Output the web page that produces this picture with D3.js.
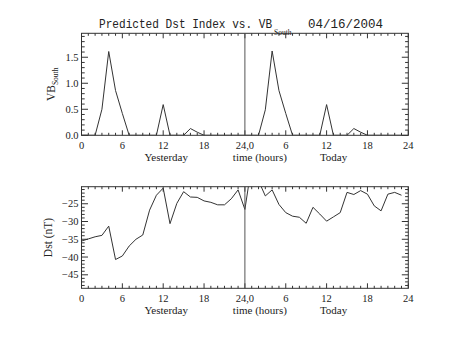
<!DOCTYPE html>
<html><head><meta charset="utf-8">
<script src="https://cdn.jsdelivr.net/npm/d3@7"></script>
<style>
body{margin:0;background:#fff;}
text{font-family:"Liberation Serif","DejaVu Serif",serif;fill:#222;}
</style></head>
<body><svg id="c" width="453" height="340"></svg>
<script>
// ---- data ----
const hours = d3.range(0, 48);
const vbYesterday = [0,0,0,0.5,1.61,0.86,0.42,0,0,0,0,0,0.59,0,0,0,0.13,0.06,0,0,0,0,0,0];
const vbToday     = [0,0,0,0.49,1.62,0.86,0.42,0,0,0,0,0,0.59,0,0,0,0.13,0.06,0,0,0,0,0,0];
const dstYesterday = [-35.5,-34.9,-34.3,-33.9,-31.3,-40.7,-39.7,-36.9,-35.0,-33.8,-26.8,-22.6,-20.6,-30.6,-24.9,-21.6,-23.1,-23.2,-24.2,-24.6,-25.3,-25.3,-23.6,-21.1];
const dstToday     = [-26.6,-14,-18.5,-22.8,-21.1,-25.2,-27.5,-28.5,-28.8,-30.5,-26.0,-27.9,-29.9,-28.7,-27.5,-21.8,-22.4,-21.3,-22.3,-25.6,-27.0,-22.3,-21.8,-22.6];
const xTickValues = [0,6,12,18,24,30,36,42,48];
const xTickLabels = ["0","6","12","18","24,0","6","12","18","24"];
const vbTicks = [0,0.5,1.0,1.5];
const dstTicks = [-45,-40,-35,-30,-25];
const vbDomain = [0, 1.96];
const dstDomain = [-48.8, -20.2];
const titleMain = "Predicted Dst Index vs. VB";
const titleSub = "South";
const titleDate = "04/16/2004";
const xTitleParts = ["Yesterday", "time (hours)", "Today"];

const svg = d3.select("#c");
const X0 = 81.5, X1 = 408.3;
const x = d3.scaleLinear().domain([0,48]).range([X0, X1]);
const ink = "#333";

function panel(top, bottom, domain, yTicks, yMinorStep, yFmt, values, clipId, yLabel) {
  const y = d3.scaleLinear().domain(domain).range([bottom, top]);
  const g = svg.append("g");
  g.append("clipPath").attr("id", clipId).append("rect")
    .attr("x", X0).attr("y", top).attr("width", X1 - X0).attr("height", bottom - top);
  g.append("rect").attr("x", X0).attr("y", top).attr("width", X1 - X0).attr("height", bottom - top)
    .attr("fill", "none").attr("stroke", ink).attr("stroke-width", 1);
  const tk = g.append("g").attr("stroke", ink).attr("stroke-width", 1);
  d3.range(0, 49, 1).forEach(h => {
    const len = (h % 6 === 0) ? 5 : 2.5;
    tk.append("line").attr("x1", x(h)).attr("x2", x(h)).attr("y1", bottom).attr("y2", bottom - len);
    tk.append("line").attr("x1", x(h)).attr("x2", x(h)).attr("y1", top).attr("y2", top + len);
  });
  const yMin = Math.ceil(domain[0] / yMinorStep - 1e-6);
  const yMax = Math.floor(domain[1] / yMinorStep + 1e-6);
  for (let i = yMin; i <= yMax; i++) {
    const v = i * yMinorStep;
    const major = yTicks.some(t => Math.abs(t - v) < 1e-6);
    const len = major ? 6.5 : 3.2;
    tk.append("line").attr("x1", X0).attr("x2", X0 + len).attr("y1", y(v)).attr("y2", y(v));
    tk.append("line").attr("x1", X1).attr("x2", X1 - len).attr("y1", y(v)).attr("y2", y(v));
  }
  g.selectAll(".xl").data(xTickValues).enter().append("text")
    .attr("x", d => x(d)).attr("y", bottom + 14).attr("text-anchor", "middle")
    .attr("font-size", 10.5).text((d, i) => xTickLabels[i]);
  const centers = [x(12) + 3, x(24) + 15, x(36) + 7];
  xTitleParts.forEach((t, i) => {
    g.append("text").attr("x", centers[i]).attr("y", bottom + 26).attr("text-anchor", "middle")
      .attr("font-size", 11).text(t);
  });
  g.selectAll(".yl").data(yTicks).enter().append("text")
    .attr("x", X0 - 3).attr("y", d => y(d) + 3.5).attr("text-anchor", "end")
    .attr("font-size", 10.5).text(yFmt);
  const line = d3.line().x((d, i) => x(hours[i])).y(d => y(d));
  g.append("path").datum(values).attr("d", line).attr("fill", "none")
    .attr("stroke", ink).attr("stroke-width", 1).attr("clip-path", `url(#${clipId})`);
  g.append("line").attr("x1", x(24)).attr("x2", x(24)).attr("y1", top).attr("y2", bottom)
    .attr("stroke", "#555").attr("stroke-width", 1);
  const cy = (top + bottom) / 2;
  const lab = g.append("text").attr("transform", `translate(${yLabel.x},${cy}) rotate(-90)`)
    .attr("text-anchor", "middle").attr("font-size", 11.5);
  lab.append("tspan").text(yLabel.main);
  if (yLabel.sub) lab.append("tspan").attr("font-size", 7.5).attr("dy", 3).text(yLabel.sub);
  return y;
}

panel(33.3, 135.3, vbDomain, vbTicks, 0.1, d => d.toFixed(1), vbYesterday.concat(vbToday), "c1",
  {x: 54.5, main: "VB", sub: "South"});
panel(186.7, 288.3, dstDomain, dstTicks, 1, d => "\u2212" + Math.abs(d), dstYesterday.concat(dstToday), "c2",
  {x: 51.5, main: "Dst (nT)"});

// title
const tt = svg.append("g");
tt.append("text").attr("transform", "translate(99,28) scale(1,1.15)").attr("font-size", 11.1)
  .style("font-family", "'Liberation Mono', monospace").style("fill", "#222").text(titleMain);
tt.append("text").attr("x", 274).attr("y", 34.5).attr("font-size", 7.5)
  .style("font-family", "'Liberation Serif', serif").style("fill", "#222").text(titleSub);
tt.append("text").attr("x", 308).attr("y", 28).attr("font-size", 12.5)
  .style("font-family", "'Liberation Mono', monospace").style("fill", "#222").text(titleDate);
</script></body></html>
